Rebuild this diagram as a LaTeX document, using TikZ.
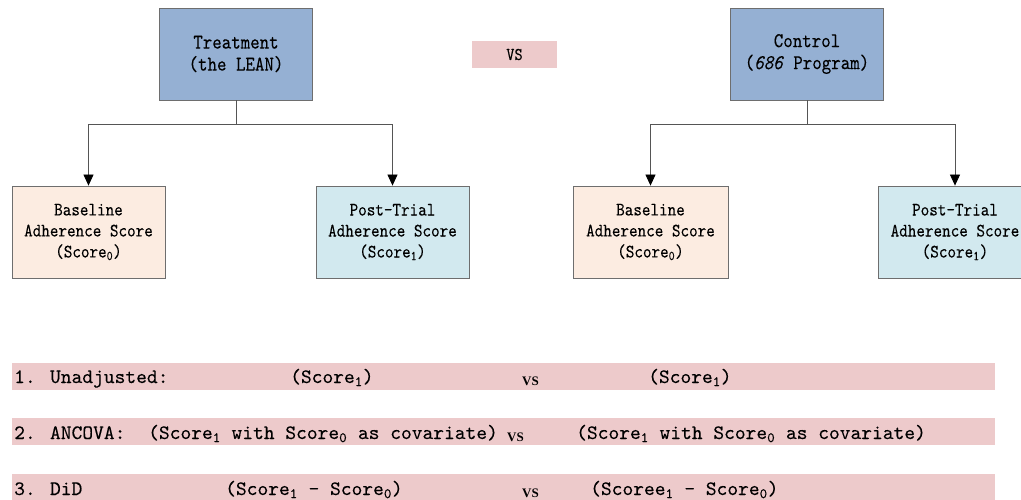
\documentclass[tikz,border=0pt]{standalone}
\usepackage{fontspec}
\newfontfamily\vsfont{Liberation Serif}
\newfontfamily\boxmono{lmmono10-regular.otf}[FakeStretch=0.86, FakeBold=0.12, ItalicFont=lmmono10-italic.otf]
\newfontfamily\barmono{lmmono10-regular.otf}[FakeBold=0.12]
\usetikzlibrary{arrows.meta}
\definecolor{groupblue}{HTML}{95B0D3}
\definecolor{basepeach}{HTML}{FCECE1}
\definecolor{postblue}{HTML}{D2E9EF}
\definecolor{barpink}{HTML}{EDCACB}
\definecolor{edgegrey}{HTML}{6E6E6E}
\definecolor{linegrey}{HTML}{555555}
\newcommand{\sco}[1]{Score\textsubscript{#1}}
\tikzset{
  box/.style={draw=edgegrey, line width=0.8pt, inner sep=0pt, align=center,
    minimum width=153pt, minimum height=92pt, font=\boxmono\fontsize{19}{21}\selectfont},
  groupbox/.style={box, fill=groupblue, font=\boxmono\fontsize{21}{22}\selectfont},
  basebox/.style={box, fill=basepeach},
  postbox/.style={box, fill=postblue},
  vsbox/.style={fill=barpink, inner sep=0pt, minimum width=85pt, minimum height=27pt,
    font=\boxmono\fontsize{18}{18}\selectfont},
  bar/.style={fill=barpink, draw=none},
  bartext/.style={anchor=base west, inner sep=0pt, font=\barmono\fontsize{20.5}{24}\selectfont},
  vstext/.style={anchor=base west, inner sep=0pt, font=\vsfont\bfseries\fontsize{13}{15}\selectfont},
  link/.style={draw=linegrey, line width=0.8pt},
  arrowlink/.style={link, -{Triangle[width=10pt,length=11pt,color=black,fill=black]}}
}
\begin{document}
\begin{tikzpicture}[x=1pt, y=-1pt]
\useasboundingbox (0,0) rectangle (1021,500);

% group heads
\node[groupbox] (T) at (236,54) {Treatment\\(the LEAN)};
\node[vsbox] (VS) at (514.5,54.5) {VS};
\node[groupbox] (C) at (807,54) {Control\\(\textit{686} Program)};

% measurement boxes
\node[basebox] (BL) at (88.5,232) {Baseline\\Adherence Score\\(\sco{0})};
\node[postbox] (PL) at (392.5,232) {Post-Trial\\Adherence Score\\(\sco{1})};
\node[basebox, minimum width=155pt] (BR) at (650.5,232) {Baseline\\Adherence Score\\(\sco{0})};
\node[postbox, minimum width=154pt] (PR) at (955,232) {Post-Trial\\Adherence Score\\(\sco{1})};

% tree connectors
\coordinate (tb) at (236,124);
\coordinate (cb) at (807,124);
\draw[link] (T.south) -- (tb);
\draw[arrowlink] (tb) -| (BL.north);
\draw[arrowlink] (tb) -| (PL.north);
\draw[link] (C.south) -- (cb);
\draw[arrowlink] (cb) -| (BR.north);
\draw[arrowlink] (cb) -| (PR.north);

% analysis bars
\fill[bar] (12,363) rectangle (995,390);
\fill[bar] (12,418) rectangle (995,445);
\fill[bar] (12,474) rectangle (995,501);

\node[bartext] (u1) at (14,383) {1. Unadjusted:};
\node[bartext] (u2) at (290,383) {(\sco{1})};
\node[vstext] (u3) at (522,385) {VS};
\node[bartext] (u4) at (648,383) {(\sco{1})};

\node[bartext] (a1) at (14,439) {2. ANCOVA:};
\node[bartext] (a2) at (148,439) {(\sco{1} with \sco{0} as covariate)};
\node[vstext] (a3) at (507,441) {VS};
\node[bartext] (a4) at (576,439) {(\sco{1} with \sco{0} as covariate)};

\node[bartext] (d1) at (14,495) {3. DiD};
\node[bartext] (d2) at (225,495) {(\sco{1} - \sco{0})};
\node[vstext] (d3) at (522,497) {VS};
\node[bartext] (d4) at (590,495) {(Scoree\textsubscript{1} - \sco{0})};
\end{tikzpicture}
\end{document}
